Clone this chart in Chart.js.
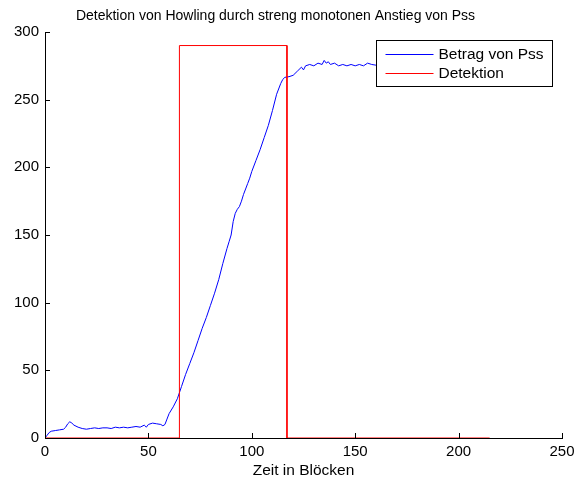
<!DOCTYPE html>
<html>
<head>
<meta charset="utf-8">
<script src="https://cdn.jsdelivr.net/npm/chart.js@4"></script>
<style>
  body { margin: 0; background: #fff; }
  #chart { display: block; }
</style>
</head>
<body>
<canvas id="chart" width="575" height="482"></canvas>
<script>
var titleText = "Detektion von Howling durch streng monotonen Anstieg von Pss";
var xLabel = "Zeit in Blöcken";
var seriesNames = ["Betrag von Pss", "Detektion"];

// Betrag von Pss (part behind the legend assumed flat)
var pssX = [0, 1, 2, 3, 5, 7, 9, 10, 11, 12, 13, 14, 16, 18, 20, 22, 24, 26, 28, 30,
            32, 34, 36, 38, 40, 42, 44, 46, 48, 49, 50, 52, 54, 56, 57, 58, 59, 60, 62, 64,
            66, 68, 70, 72, 74, 76, 78, 80, 82, 84, 86, 88, 89, 90, 91, 92, 93, 94, 95, 96,
            97, 98, 99, 100, 102, 104, 106, 108, 110, 112, 114, 115, 116, 118, 120, 122, 124, 125, 126, 128,
            130, 132, 134, 135, 136, 137, 138, 140, 142, 144, 146, 148, 150, 152, 154, 156, 158, 160, 170, 180,
            190, 200, 215];
var pssY = [0, 2, 4, 5, 5.5, 6, 6.5, 8, 10.5, 12, 11, 9.5, 8, 7, 6.5, 7, 7.5, 7, 7.5, 7.5,
            7, 8, 7.5, 8, 7.5, 8, 8.5, 8, 9.5, 8, 10, 11, 10.5, 10, 9, 10, 14, 18, 23, 29,
            38, 47, 55, 63, 72, 81, 89, 98, 107, 117, 129, 140, 145, 150, 160, 166, 169, 171, 175, 180,
            184, 188, 192, 197, 205, 213, 222, 231, 242, 254, 262, 265, 266.5, 267, 268, 271, 274, 272, 275, 276,
            275, 277, 276, 279, 277, 278, 276, 277, 275, 276, 275, 276, 275, 276, 275, 277, 276, 275.5, 276, 275,
            276, 275, 276];

// Detektion
var detX = [0, 65, 65, 117, 117, 215];
var detY = [0, 0, 290, 290, 0, 0];

var xTicks = [0, 50, 100, 150, 200, 250];
var yTicks = [0, 50, 100, 150, 200, 250, 300];

var fontFamily = "'Liberation Sans', Arial, sans-serif";

function toPoints(xs, ys) {
    var pts = [];
    for (var i = 0; i < xs.length; i++) pts.push({x: xs[i], y: ys[i]});
    return pts;
}

// title, small inward tick marks and the legend box
var decorations = {
    id: 'decorations',
    afterDraw: function (chart) {
        var ctx = chart.ctx, a = chart.chartArea;
        var sx = chart.scales.x, sy = chart.scales.y;
        ctx.save();

        ctx.fillStyle = '#000';
        ctx.font = '14px ' + fontFamily;
        ctx.textAlign = 'center';
        ctx.textBaseline = 'middle';
        ctx.fillText(titleText, 275.5, 16);

        ctx.strokeStyle = '#000';
        ctx.lineWidth = 1;
        ctx.beginPath();
        xTicks.forEach(function (v) {
            var p = Math.round(sx.getPixelForValue(v)) + 0.5;
            ctx.moveTo(p, a.bottom);
            ctx.lineTo(p, a.bottom - 5);
        });
        yTicks.forEach(function (v) {
            var p = Math.round(sy.getPixelForValue(v)) + 0.5;
            ctx.moveTo(a.left, p);
            ctx.lineTo(a.left + 5, p);
        });
        ctx.stroke();

        var w = 176, h = 46;
        var x0 = Math.round(a.right - 10 - w) + 0.5, y0 = Math.round(a.top + 8) + 0.5;
        ctx.fillStyle = '#fff';
        ctx.fillRect(x0, y0, w, h);
        ctx.strokeStyle = '#000';
        ctx.strokeRect(x0, y0, w, h);
        ctx.font = '15.5px ' + fontFamily;
        ctx.textAlign = 'left';
        ctx.fillStyle = '#000';
        chart.data.datasets.forEach(function (ds, i) {
            var ly = Math.round(y0 + 13 + i * 19) + 0.5;
            ctx.strokeStyle = ds.borderColor;
            ctx.beginPath();
            ctx.moveTo(x0 + 9, ly);
            ctx.lineTo(x0 + 57, ly);
            ctx.stroke();
            ctx.fillText(ds.label, x0 + 62, ly);
        });
        ctx.restore();
    }
};

new Chart(document.getElementById('chart'), {
    type: 'line',
    data: {
        datasets: [{
            label: seriesNames[0],
            data: toPoints(pssX, pssY),
            borderColor: 'rgb(0, 0, 255)',
            borderWidth: 1,
            pointRadius: 0,
            tension: 0,
            order: 1
        }, {
            label: seriesNames[1],
            data: toPoints(detX, detY),
            borderColor: 'rgb(255, 0, 0)',
            borderWidth: 1,
            pointRadius: 0,
            tension: 0,
            order: 0
        }]
    },
    options: {
        responsive: false,
        animation: false,
        events: [],
        layout: { padding: { left: 0, right: 13, top: 32, bottom: 0 } },
        plugins: {
            legend: { display: false },
            tooltip: { enabled: false },
            title: { display: false }
        },
        scales: {
            x: {
                type: 'linear',
                min: 0,
                max: 250,
                afterBuildTicks: function (s) { s.ticks = xTicks.map(function (v) { return {value: v}; }); },
                afterFit: function (s) { s.height = 44; s.paddingLeft = 0; s.paddingRight = 0; },
                grid: { display: false, drawTicks: false },
                border: { display: true, color: '#000', width: 1 },
                ticks: { color: '#000', padding: 5, maxRotation: 0, font: { family: fontFamily, size: 15 } },
                title: {
                    display: true,
                    text: xLabel,
                    color: '#000',
                    font: { family: fontFamily, size: 15.5 },
                    padding: { top: 0, bottom: 2 }
                }
            },
            y: {
                type: 'linear',
                min: 0,
                max: 300,
                afterBuildTicks: function (s) { s.ticks = yTicks.map(function (v) { return {value: v}; }); },
                afterFit: function (s) { s.width = 45; s.paddingTop = 0; s.paddingBottom = 0; },
                grid: { display: false, drawTicks: false },
                border: { display: true, color: '#000', width: 1 },
                ticks: { color: '#000', padding: 6, font: { family: fontFamily, size: 15 } }
            }
        }
    },
    plugins: [decorations]
});
</script>
</body>
</html>
